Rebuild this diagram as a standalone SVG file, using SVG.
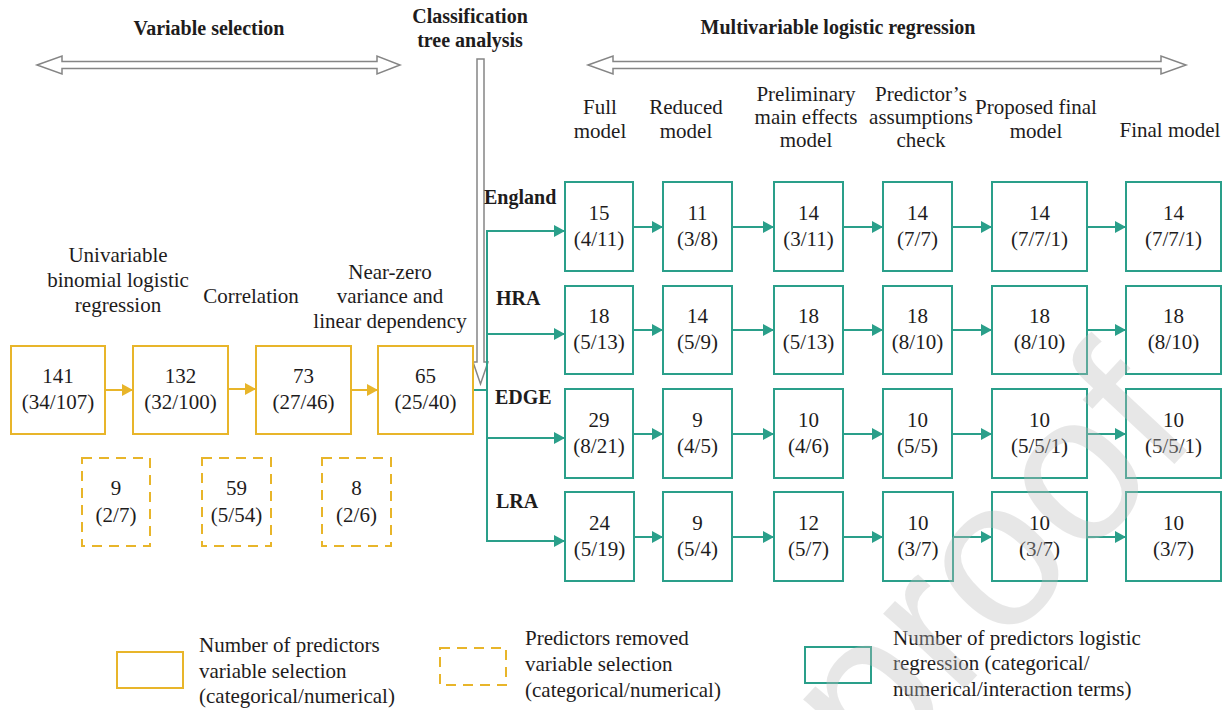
<svg xmlns="http://www.w3.org/2000/svg" width="1230" height="710" viewBox="0 0 1230 710" font-family="'Liberation Serif', Tinos, 'Times New Roman', 'Noto Serif', 'DejaVu Serif', serif">
  <style>
    .t { font-size: 21px; fill: #1e1c1c; text-anchor: middle; }
    .l { text-anchor: start; }
    .b { font-weight: bold; font-size: 20px; }
    .ybox { fill: #fff; stroke: #e8b52a; stroke-width: 2; }
    .ydash { stroke-dasharray: 10 7; }
    .gbox { fill: #fff; stroke: #2a9f8a; stroke-width: 2; }
    .yline { stroke: #e8b52a; stroke-width: 2; fill: none; }
    .gline { stroke: #2a9f8a; stroke-width: 2; fill: none; }
    .hollow { fill: #fff; stroke: #858585; stroke-width: 1.5; stroke-linejoin: miter; }
    .wm { font-size: 210px; fill: #bdbdbd; opacity: 0.35; }
  </style>
  <defs>
    <marker id="ahY" markerUnits="userSpaceOnUse" markerWidth="12" markerHeight="12" refX="11" refY="6" orient="auto">
      <path d="M0,0 L11,6 L0,12 Z" fill="#e8b52a"/>
    </marker>
    <marker id="ahG" markerUnits="userSpaceOnUse" markerWidth="12" markerHeight="12" refX="11" refY="6" orient="auto">
      <path d="M0,0 L11,6 L0,12 Z" fill="#2a9f8a"/>
    </marker>
  </defs>
  <rect width="1230" height="710" fill="#fff"/>

  <!-- stage headings -->
  <g id="headings">
    <text class="t b" x="209" y="35">Variable selection</text>
    <text class="t b" x="470" y="23">Classification</text>
    <text class="t b" x="470" y="47">tree analysis</text>
    <text class="t b" x="838" y="34">Multivariable logistic regression</text>
    <polygon class="hollow" points="37,65 62,56 62,61.5 377,61.5 377,56 400,65 377,74 377,68.5 62,68.5 62,74"/>
    <polygon class="hollow" points="588,65 613,56 613,61.5 1161,61.5 1161,56 1186,65 1161,74 1161,68.5 613,68.5 613,74"/>
    <polygon class="hollow" points="477,59 484,59 484,362 488,362 480.5,384 473,362 477,362"/>
  </g>

  <!-- variable selection step labels -->
  <g id="step-labels">
    <text class="t" x="118" y="262">Univariable</text>
    <text class="t" x="118" y="287">binomial logistic</text>
    <text class="t" x="118" y="312">regression</text>
    <text class="t" x="251" y="303">Correlation</text>
    <text class="t" x="390" y="279">Near-zero</text>
    <text class="t" x="390" y="303">variance and</text>
    <text class="t" x="390" y="328">linear dependency</text>
  </g>

  <!-- model column labels -->
  <g id="column-labels">
    <text class="t" x="600" y="114">Full</text>
    <text class="t" x="600" y="138">model</text>
    <text class="t" x="686" y="114">Reduced</text>
    <text class="t" x="686" y="138">model</text>
    <text class="t" x="806" y="101">Preliminary</text>
    <text class="t" x="806" y="124">main effects</text>
    <text class="t" x="806" y="147">model</text>
    <text class="t" x="921" y="101">Predictor’s</text>
    <text class="t" x="921" y="124">assumptions</text>
    <text class="t" x="921" y="147">check</text>
    <text class="t" x="1036" y="114">Proposed final</text>
    <text class="t" x="1036" y="138">model</text>
    <text class="t" x="1170" y="137">Final model</text>
  </g>

  <!-- region row labels -->
  <g id="row-labels">
    <text class="t b l" x="484" y="204">England</text>
    <text class="t b l" x="496" y="305">HRA</text>
    <text class="t b l" x="495" y="404">EDGE</text>
    <text class="t b l" x="496" y="508">LRA</text>
  </g>

  <!-- connectors -->
  <g id="connectors">
    <line class="yline" x1="105" y1="390" x2="133" y2="390" marker-end="url(#ahY)"/>
    <line class="yline" x1="228" y1="389" x2="256" y2="389" marker-end="url(#ahY)"/>
    <line class="yline" x1="351" y1="390" x2="378" y2="390" marker-end="url(#ahY)"/>

    <polyline class="gline" points="473,390 487,390"/>
    <line class="gline" x1="487" y1="230" x2="487" y2="542"/>
    <line class="gline" x1="486" y1="231" x2="565" y2="231" marker-end="url(#ahG)"/>
    <line class="gline" x1="486" y1="334" x2="565" y2="334" marker-end="url(#ahG)"/>
    <line class="gline" x1="486" y1="438" x2="565" y2="438" marker-end="url(#ahG)"/>
    <line class="gline" x1="486" y1="541" x2="565" y2="541" marker-end="url(#ahG)"/>

    <!-- England -->
    <line class="gline" x1="633" y1="227" x2="663" y2="227" marker-end="url(#ahG)"/>
    <line class="gline" x1="732" y1="227" x2="774" y2="227" marker-end="url(#ahG)"/>
    <line class="gline" x1="843" y1="227" x2="883" y2="227" marker-end="url(#ahG)"/>
    <line class="gline" x1="952" y1="227" x2="992" y2="227" marker-end="url(#ahG)"/>
    <line class="gline" x1="1087" y1="227" x2="1126" y2="227" marker-end="url(#ahG)"/>
    <!-- HRA -->
    <line class="gline" x1="633" y1="330" x2="663" y2="330" marker-end="url(#ahG)"/>
    <line class="gline" x1="732" y1="330" x2="774" y2="330" marker-end="url(#ahG)"/>
    <line class="gline" x1="843" y1="330" x2="883" y2="330" marker-end="url(#ahG)"/>
    <line class="gline" x1="952" y1="330" x2="992" y2="330" marker-end="url(#ahG)"/>
    <line class="gline" x1="1087" y1="330" x2="1126" y2="330" marker-end="url(#ahG)"/>
    <!-- EDGE -->
    <line class="gline" x1="633" y1="434" x2="663" y2="434" marker-end="url(#ahG)"/>
    <line class="gline" x1="732" y1="434" x2="774" y2="434" marker-end="url(#ahG)"/>
    <line class="gline" x1="843" y1="434" x2="883" y2="434" marker-end="url(#ahG)"/>
    <line class="gline" x1="952" y1="434" x2="992" y2="434" marker-end="url(#ahG)"/>
    <line class="gline" x1="1087" y1="434" x2="1126" y2="434" marker-end="url(#ahG)"/>
    <!-- LRA -->
    <line class="gline" x1="633" y1="537" x2="663" y2="537" marker-end="url(#ahG)"/>
    <line class="gline" x1="732" y1="537" x2="774" y2="537" marker-end="url(#ahG)"/>
    <line class="gline" x1="843" y1="537" x2="883" y2="537" marker-end="url(#ahG)"/>
    <line class="gline" x1="952" y1="537" x2="992" y2="537" marker-end="url(#ahG)"/>
    <line class="gline" x1="1087" y1="537" x2="1126" y2="537" marker-end="url(#ahG)"/>
  </g>

  <!-- variable selection counts -->
  <g id="vs-141"><rect class="ybox" x="11" y="346" width="94" height="88"/><text class="t" x="58" y="383">141</text><text class="t" x="58" y="409">(34/107)</text></g>
  <g id="vs-132"><rect class="ybox" x="133" y="346" width="95" height="88"/><text class="t" x="180.5" y="383">132</text><text class="t" x="180.5" y="409">(32/100)</text></g>
  <g id="vs-73"><rect class="ybox" x="256" y="346" width="95" height="88"/><text class="t" x="303.5" y="383">73</text><text class="t" x="303.5" y="409">(27/46)</text></g>
  <g id="vs-65"><rect class="ybox" x="378" y="346" width="95" height="88"/><text class="t" x="425.5" y="383">65</text><text class="t" x="425.5" y="409">(25/40)</text></g>

  <!-- predictors removed -->
  <g id="rm-9"><rect class="ybox ydash" x="82" y="458" width="68" height="88"/><text class="t" x="116" y="495">9</text><text class="t" x="116" y="522">(2/7)</text></g>
  <g id="rm-59"><rect class="ybox ydash" x="202" y="458" width="69" height="88"/><text class="t" x="236.5" y="495">59</text><text class="t" x="236.5" y="522">(5/54)</text></g>
  <g id="rm-8"><rect class="ybox ydash" x="322" y="458" width="69" height="88"/><text class="t" x="356.5" y="495">8</text><text class="t" x="356.5" y="522">(2/6)</text></g>

  <!-- England row -->
  <g id="eng-full"><rect class="gbox" x="565" y="182" width="68" height="89"/><text class="t" x="599" y="220">15</text><text class="t" x="599" y="246">(4/11)</text></g>
  <g id="eng-reduced"><rect class="gbox" x="663" y="182" width="69" height="89"/><text class="t" x="697.5" y="220">11</text><text class="t" x="697.5" y="246">(3/8)</text></g>
  <g id="eng-prelim"><rect class="gbox" x="774" y="182" width="69" height="89"/><text class="t" x="808.5" y="220">14</text><text class="t" x="808.5" y="246">(3/11)</text></g>
  <g id="eng-check"><rect class="gbox" x="883" y="182" width="69" height="89"/><text class="t" x="917.5" y="220">14</text><text class="t" x="917.5" y="246">(7/7)</text></g>
  <g id="eng-proposed"><rect class="gbox" x="992" y="182" width="95" height="89"/><text class="t" x="1039.5" y="220">14</text><text class="t" x="1039.5" y="246">(7/7/1)</text></g>
  <g id="eng-final"><rect class="gbox" x="1126" y="182" width="95" height="89"/><text class="t" x="1173.5" y="220">14</text><text class="t" x="1173.5" y="246">(7/7/1)</text></g>

  <!-- HRA row -->
  <g id="hra-full"><rect class="gbox" x="565" y="286" width="68" height="88"/><text class="t" x="599" y="323">18</text><text class="t" x="599" y="349">(5/13)</text></g>
  <g id="hra-reduced"><rect class="gbox" x="663" y="286" width="69" height="88"/><text class="t" x="697.5" y="323">14</text><text class="t" x="697.5" y="349">(5/9)</text></g>
  <g id="hra-prelim"><rect class="gbox" x="774" y="286" width="69" height="88"/><text class="t" x="808.5" y="323">18</text><text class="t" x="808.5" y="349">(5/13)</text></g>
  <g id="hra-check"><rect class="gbox" x="883" y="286" width="69" height="88"/><text class="t" x="917.5" y="323">18</text><text class="t" x="917.5" y="349">(8/10)</text></g>
  <g id="hra-proposed"><rect class="gbox" x="992" y="286" width="95" height="88"/><text class="t" x="1039.5" y="323">18</text><text class="t" x="1039.5" y="349">(8/10)</text></g>
  <g id="hra-final"><rect class="gbox" x="1126" y="286" width="95" height="88"/><text class="t" x="1173.5" y="323">18</text><text class="t" x="1173.5" y="349">(8/10)</text></g>

  <!-- EDGE row -->
  <g id="edge-full"><rect class="gbox" x="565" y="389" width="68" height="89"/><text class="t" x="599" y="427">29</text><text class="t" x="599" y="453">(8/21)</text></g>
  <g id="edge-reduced"><rect class="gbox" x="663" y="389" width="69" height="89"/><text class="t" x="697.5" y="427">9</text><text class="t" x="697.5" y="453">(4/5)</text></g>
  <g id="edge-prelim"><rect class="gbox" x="774" y="389" width="69" height="89"/><text class="t" x="808.5" y="427">10</text><text class="t" x="808.5" y="453">(4/6)</text></g>
  <g id="edge-check"><rect class="gbox" x="883" y="389" width="69" height="89"/><text class="t" x="917.5" y="427">10</text><text class="t" x="917.5" y="453">(5/5)</text></g>
  <g id="edge-proposed"><rect class="gbox" x="992" y="389" width="95" height="89"/><text class="t" x="1039.5" y="427">10</text><text class="t" x="1039.5" y="453">(5/5/1)</text></g>
  <g id="edge-final"><rect class="gbox" x="1126" y="389" width="95" height="89"/><text class="t" x="1173.5" y="427">10</text><text class="t" x="1173.5" y="453">(5/5/1)</text></g>

  <!-- LRA row -->
  <g id="lra-full"><rect class="gbox" x="565" y="492" width="69" height="89"/><text class="t" x="599.5" y="530">24</text><text class="t" x="599.5" y="556">(5/19)</text></g>
  <g id="lra-reduced"><rect class="gbox" x="663" y="492" width="69" height="89"/><text class="t" x="697.5" y="530">9</text><text class="t" x="697.5" y="556">(5/4)</text></g>
  <g id="lra-prelim"><rect class="gbox" x="774" y="492" width="69" height="89"/><text class="t" x="808.5" y="530">12</text><text class="t" x="808.5" y="556">(5/7)</text></g>
  <g id="lra-check"><rect class="gbox" x="883" y="492" width="70" height="89"/><text class="t" x="918" y="530">10</text><text class="t" x="918" y="556">(3/7)</text></g>
  <g id="lra-proposed"><rect class="gbox" x="992" y="492" width="95" height="89"/><text class="t" x="1039.5" y="530">10</text><text class="t" x="1039.5" y="556">(3/7)</text></g>
  <g id="lra-final"><rect class="gbox" x="1126" y="492" width="95" height="89"/><text class="t" x="1173.5" y="530">10</text><text class="t" x="1173.5" y="556">(3/7)</text></g>

  <!-- legend -->
  <g id="legend">
    <rect class="ybox" x="117" y="652" width="66" height="36"/>
    <text class="t l" x="199" y="652">Number of predictors</text>
    <text class="t l" x="199" y="678">variable selection</text>
    <text class="t l" x="199" y="703">(categorical/numerical)</text>
    <rect class="ybox ydash" x="440" y="648" width="66" height="37"/>
    <text class="t l" x="525" y="645">Predictors removed</text>
    <text class="t l" x="525" y="671">variable selection</text>
    <text class="t l" x="525" y="697">(categorical/numerical)</text>
    <rect class="gbox" x="805" y="647" width="66" height="36"/>
    <text class="t l" x="893" y="645">Number of predictors logistic</text>
    <text class="t l" x="893" y="670">regression (categorical/</text>
    <text class="t l" x="893" y="696">numerical/interaction terms)</text>
  </g>

  <!-- faint page watermark -->
  <text class="wm" font-family="'Liberation Sans', Arial, sans-serif" transform="translate(875,785) rotate(-47)">proof</text>
</svg>
